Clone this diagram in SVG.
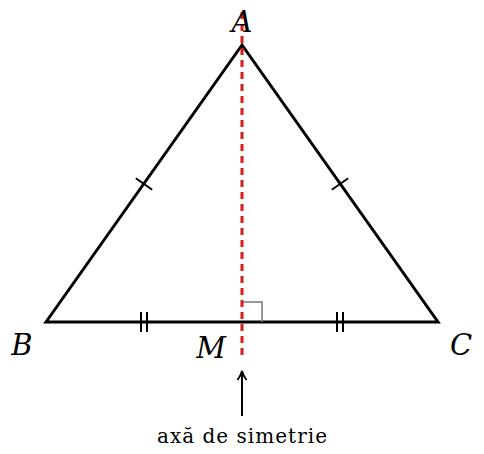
<svg xmlns="http://www.w3.org/2000/svg" width="484" height="454" viewBox="0 0 484 454">
<style>
.lbl{font-family:"DejaVu Serif","Liberation Serif",serif;font-style:italic;font-size:29px;fill:#000}
.txt{font-family:"DejaVu Serif","Liberation Serif",serif;font-size:20px;fill:#000}
.edge{stroke:#000;stroke-width:3;fill:none;stroke-linejoin:miter}
.tick{stroke:#000;stroke-width:2;fill:none}
</style>
<defs>
<marker id="ah" markerWidth="12" markerHeight="12" refX="10" refY="6" orient="auto" markerUnits="userSpaceOnUse">
<path d="M1,1.5 Q6,5 10,6 Q6,7 1,10.5" fill="none" stroke="#000" stroke-width="1.8"/>
</marker>
</defs>
<g id="triangle">
<path class="edge" d="M46,322 L242,45 L438,322 Z"/>
</g>
<g id="marks">
<path d="M242,302 H262 V322" fill="none" stroke="#777" stroke-width="1.5"/>
<line class="tick" x1="135.8" y1="178.2" x2="152.2" y2="189.8"/>
<line class="tick" x1="331.8" y1="189.8" x2="348.2" y2="178.2"/>
<line class="tick" x1="141" y1="312" x2="141" y2="332"/>
<line class="tick" x1="147" y1="312" x2="147" y2="332"/>
<line class="tick" x1="337" y1="312" x2="337" y2="332"/>
<line class="tick" x1="343" y1="312" x2="343" y2="332"/>
</g>
<g id="axis">
<line x1="242" y1="12" x2="242" y2="356" stroke="#d91c1c" stroke-width="3" stroke-dasharray="7,5"/>
</g>
<g id="connectors">
<line x1="242" y1="416" x2="242" y2="371" stroke="#000" stroke-width="2" marker-end="url(#ah)"/>
</g>
<g id="labels">
<text class="lbl" x="242" y="32" text-anchor="middle">A</text>
<text class="lbl" x="22" y="355" text-anchor="middle">B</text>
<text class="lbl" x="461" y="355" text-anchor="middle">C</text>
<text class="lbl" x="211" y="358" text-anchor="middle">M</text>
<text class="txt" x="242" y="443" text-anchor="middle" textLength="170" lengthAdjust="spacing">axă de simetrie</text>
</g>
</svg>
